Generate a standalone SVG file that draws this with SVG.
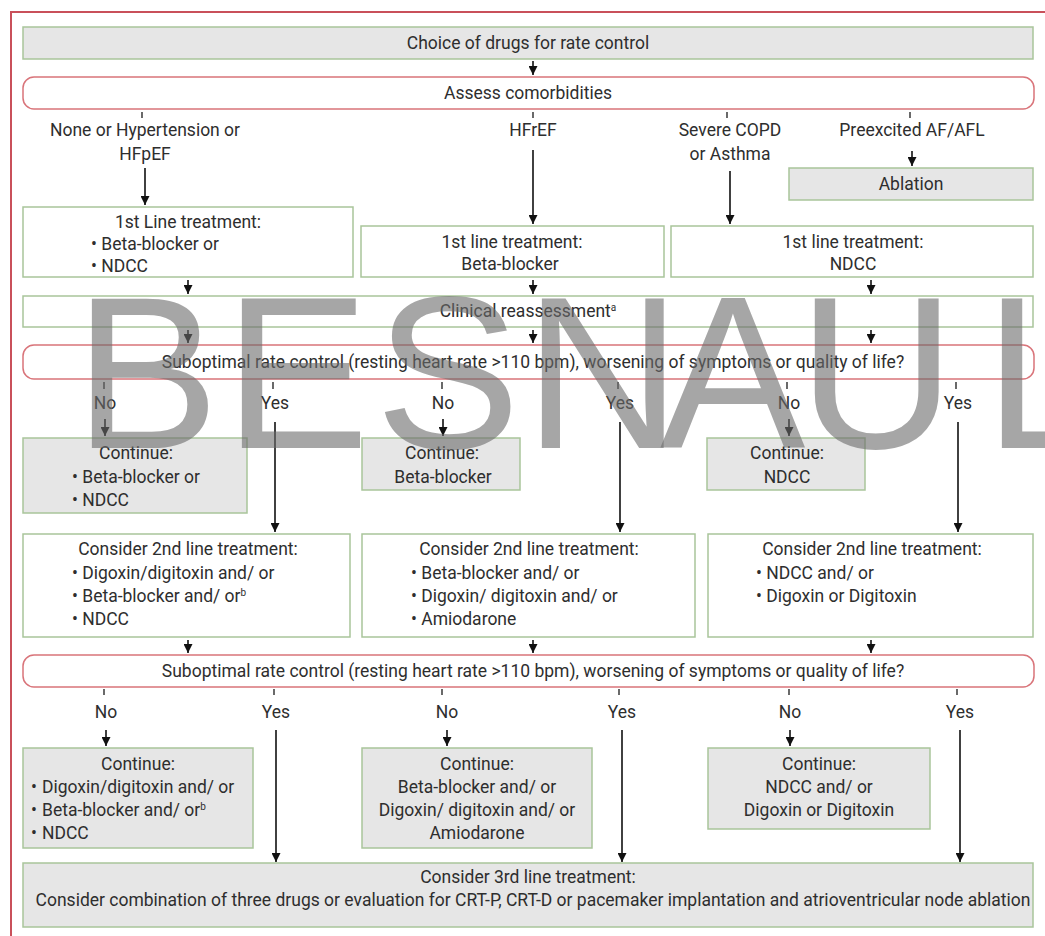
<svg xmlns="http://www.w3.org/2000/svg" width="1045" height="936" viewBox="0 0 1045 936">
<defs>
<marker id="ah" viewBox="0 0 10 10" refX="10" refY="5" markerWidth="9" markerHeight="9" markerUnits="userSpaceOnUse" orient="auto">
<path d="M0,0 L10,5 L0,10 z" fill="#111"/>
</marker>
<style>
.t{font-family:Roboto,"Liberation Sans",sans-serif;font-size:17.5px;fill:#2e2e2e}
.c{text-anchor:middle}
.gw{fill:#ffffff;stroke:#a9c59a;stroke-width:1.5}
.gg{fill:#e6e6e6;stroke:#a9c59a;stroke-width:1.5}
.rd{fill:#ffffff;stroke:#d9747a;stroke-width:1.5}
.ar{stroke:#111;stroke-width:1.6;fill:none;marker-end:url(#ah)}
.tk{stroke:#444;stroke-width:1.6}
.sup{font-size:10px}
</style>
</defs>
<rect x="0" y="0" width="1045" height="936" fill="#ffffff"/>
<path d="M1045,12 L11,12 L11,936" fill="none" stroke="#c9505a" stroke-width="2"/>

<g id="connectors">
<line class="ar" x1="533" y1="61" x2="533" y2="75"/>
<line class="tk" x1="142" y1="112" x2="142" y2="118"/>
<line class="tk" x1="533" y1="112" x2="533" y2="118"/>
<line class="tk" x1="727" y1="112" x2="727" y2="118"/>
<line class="tk" x1="910" y1="112" x2="910" y2="118"/>
<line class="ar" x1="145" y1="168" x2="145" y2="205"/>
<line class="ar" x1="533" y1="150" x2="533" y2="224"/>
<line class="ar" x1="730" y1="171" x2="730" y2="224"/>
<line class="ar" x1="912" y1="151" x2="912" y2="166"/>
<line class="ar" x1="188" y1="280" x2="188" y2="294"/>
<line class="ar" x1="533" y1="280" x2="533" y2="294"/>
<line class="ar" x1="871" y1="280" x2="871" y2="294"/>
<line class="ar" x1="188" y1="330" x2="188" y2="343"/>
<line class="ar" x1="533" y1="330" x2="533" y2="343"/>
<line class="ar" x1="871" y1="330" x2="871" y2="343"/>
<line class="tk" x1="104" y1="382" x2="104" y2="389"/>
<line class="tk" x1="273" y1="382" x2="273" y2="389"/>
<line class="tk" x1="442" y1="382" x2="442" y2="389"/>
<line class="tk" x1="618" y1="382" x2="618" y2="389"/>
<line class="tk" x1="787" y1="382" x2="787" y2="389"/>
<line class="tk" x1="956" y1="382" x2="956" y2="389"/>
<line class="ar" x1="105" y1="419" x2="105" y2="436"/>
<line class="ar" x1="443" y1="419" x2="443" y2="436"/>
<line class="ar" x1="789" y1="419" x2="789" y2="436"/>
<line class="ar" x1="275" y1="422" x2="275" y2="532"/>
<line class="ar" x1="620" y1="422" x2="620" y2="532"/>
<line class="ar" x1="958" y1="422" x2="958" y2="532"/>
<line class="ar" x1="188" y1="640" x2="188" y2="653"/>
<line class="ar" x1="533" y1="640" x2="533" y2="653"/>
<line class="ar" x1="871" y1="640" x2="871" y2="653"/>
<line class="tk" x1="104" y1="689" x2="104" y2="695"/>
<line class="tk" x1="274" y1="689" x2="274" y2="695"/>
<line class="tk" x1="442" y1="689" x2="442" y2="695"/>
<line class="tk" x1="619" y1="689" x2="619" y2="695"/>
<line class="tk" x1="789" y1="689" x2="789" y2="695"/>
<line class="tk" x1="957" y1="689" x2="957" y2="695"/>
<line class="ar" x1="106" y1="730" x2="106" y2="746"/>
<line class="ar" x1="447" y1="730" x2="447" y2="746"/>
<line class="ar" x1="790" y1="730" x2="790" y2="746"/>
<line class="ar" x1="276" y1="730" x2="276" y2="862"/>
<line class="ar" x1="622" y1="730" x2="622" y2="862"/>
<line class="ar" x1="960" y1="730" x2="960" y2="862"/>
</g>

<g id="choice">
<rect class="gg" x="23" y="27" width="1010" height="32"/>
<text class="t c" x="528" y="49">Choice of drugs for rate control</text>
</g>
<g id="assess">
<rect class="rd" x="23" y="77" width="1011" height="32" rx="11"/>
<text class="t c" x="528" y="99">Assess comorbidities</text>
</g>
<g id="lbl-none">
<text class="t c" x="145" y="136">None or Hypertension or</text>
<text class="t c" x="145" y="160">HFpEF</text>
</g>
<g id="lbl-hfref"><text class="t c" x="533" y="136">HFrEF</text></g>
<g id="lbl-copd">
<text class="t c" x="730" y="136">Severe COPD</text>
<text class="t c" x="730" y="160">or Asthma</text>
</g>
<g id="lbl-preex"><text class="t c" x="912" y="136">Preexcited AF/AFL</text></g>
<g id="ablation">
<rect class="gg" x="789" y="168" width="244" height="32"/>
<text class="t c" x="911" y="190">Ablation</text>
</g>

<g id="first-left">
<rect class="gw" x="23" y="207" width="330" height="70"/>
<text class="t c" x="188" y="228">1st Line treatment:</text>
<text class="t" x="91" y="250">• Beta-blocker or</text>
<text class="t" x="91" y="272">• NDCC</text>
</g>
<g id="first-mid">
<rect class="gw" x="361" y="226" width="303" height="51"/>
<text class="t c" x="512" y="248">1st line treatment:</text>
<text class="t c" x="510" y="270">Beta-blocker</text>
</g>
<g id="first-right">
<rect class="gw" x="671" y="226" width="362" height="51"/>
<text class="t c" x="853" y="248">1st line treatment:</text>
<text class="t c" x="853" y="270">NDCC</text>
</g>

<g id="clinical">
<rect class="gw" x="23" y="296" width="1010" height="31"/>
<text class="t c" x="528" y="317">Clinical reassessment<tspan class="sup" dy="-6">a</tspan></text>
</g>

<g id="decision1">
<rect class="rd" x="23" y="345" width="1011" height="34" rx="11"/>
<text class="t c" x="533" y="368">Suboptimal rate control (resting heart rate &gt;110 bpm), worsening of symptoms or quality of life?</text>
</g>
<g id="lbl-d1">
<text class="t c" x="105" y="409">No</text>
<text class="t c" x="275" y="409">Yes</text>
<text class="t c" x="443" y="409">No</text>
<text class="t c" x="620" y="409">Yes</text>
<text class="t c" x="789" y="409">No</text>
<text class="t c" x="958" y="409">Yes</text>
</g>

<g id="cont1-left">
<rect class="gg" x="23" y="438" width="224" height="75"/>
<text class="t c" x="136" y="459">Continue:</text>
<text class="t" x="72" y="483">• Beta-blocker or</text>
<text class="t" x="72" y="506">• NDCC</text>
</g>
<g id="cont1-mid">
<rect class="gg" x="362" y="438" width="158" height="52"/>
<text class="t c" x="442" y="459">Continue:</text>
<text class="t c" x="443" y="483">Beta-blocker</text>
</g>
<g id="cont1-right">
<rect class="gg" x="707" y="438" width="158" height="52"/>
<text class="t c" x="787" y="459">Continue:</text>
<text class="t c" x="787" y="483">NDCC</text>
</g>

<g id="second-left">
<rect class="gw" x="23" y="534" width="327" height="103"/>
<text class="t c" x="188" y="555">Consider 2nd line treatment:</text>
<text class="t" x="72" y="579">• Digoxin/digitoxin and/ or</text>
<text class="t" x="72" y="602">• Beta-blocker and/ or<tspan class="sup" dy="-6">b</tspan></text>
<text class="t" x="72" y="625">• NDCC</text>
</g>
<g id="second-mid">
<rect class="gw" x="362" y="534" width="333" height="103"/>
<text class="t c" x="529" y="555">Consider 2nd line treatment:</text>
<text class="t" x="411" y="579">• Beta-blocker and/ or</text>
<text class="t" x="411" y="602">• Digoxin/ digitoxin and/ or</text>
<text class="t" x="411" y="625">• Amiodarone</text>
</g>
<g id="second-right">
<rect class="gw" x="708" y="534" width="325" height="103"/>
<text class="t c" x="872" y="555">Consider 2nd line treatment:</text>
<text class="t" x="756" y="579">• NDCC and/ or</text>
<text class="t" x="756" y="602">• Digoxin or Digitoxin</text>
</g>

<g id="decision2">
<rect class="rd" x="23" y="655" width="1011" height="32" rx="11"/>
<text class="t c" x="533" y="677">Suboptimal rate control (resting heart rate &gt;110 bpm), worsening of symptoms or quality of life?</text>
</g>
<g id="lbl-d2">
<text class="t c" x="106" y="718">No</text>
<text class="t c" x="276" y="718">Yes</text>
<text class="t c" x="447" y="718">No</text>
<text class="t c" x="622" y="718">Yes</text>
<text class="t c" x="790" y="718">No</text>
<text class="t c" x="960" y="718">Yes</text>
</g>

<g id="cont2-left">
<rect class="gg" x="23" y="748" width="230" height="100"/>
<text class="t c" x="138" y="770">Continue:</text>
<text class="t" y="793"><tspan x="31">•</tspan><tspan x="42">Digoxin/digitoxin and/ or</tspan></text>
<text class="t" y="816"><tspan x="31">•</tspan><tspan x="42">Beta-blocker and/ or</tspan><tspan class="sup" dy="-6">b</tspan></text>
<text class="t" y="839"><tspan x="31">•</tspan><tspan x="42">NDCC</tspan></text>
</g>
<g id="cont2-mid">
<rect class="gg" x="362" y="748" width="230" height="100"/>
<text class="t c" x="477" y="770">Continue:</text>
<text class="t c" x="477" y="793">Beta-blocker and/ or</text>
<text class="t c" x="477" y="816">Digoxin/ digitoxin and/ or</text>
<text class="t c" x="477" y="839">Amiodarone</text>
</g>
<g id="cont2-right">
<rect class="gg" x="708" y="748" width="222" height="81"/>
<text class="t c" x="819" y="770">Continue:</text>
<text class="t c" x="819" y="793">NDCC and/ or</text>
<text class="t c" x="819" y="816">Digoxin or Digitoxin</text>
</g>

<g id="third">
<rect class="gg" x="23" y="863" width="1010" height="64"/>
<text class="t c" x="528" y="883">Consider 3rd line treatment:</text>
<text class="t c" x="533" y="906">Consider combination of three drugs or evaluation for CRT-P, CRT-D or pacemaker implantation and atrioventricular node ablation</text>
</g>

<g id="watermark">
<text x="74 224 375 524 660 798 984" y="448" font-family="'Liberation Sans',Arial,sans-serif" font-size="218" fill="#6a6a6a" fill-opacity="0.6">BESNAUL</text>
</g>
</svg>
